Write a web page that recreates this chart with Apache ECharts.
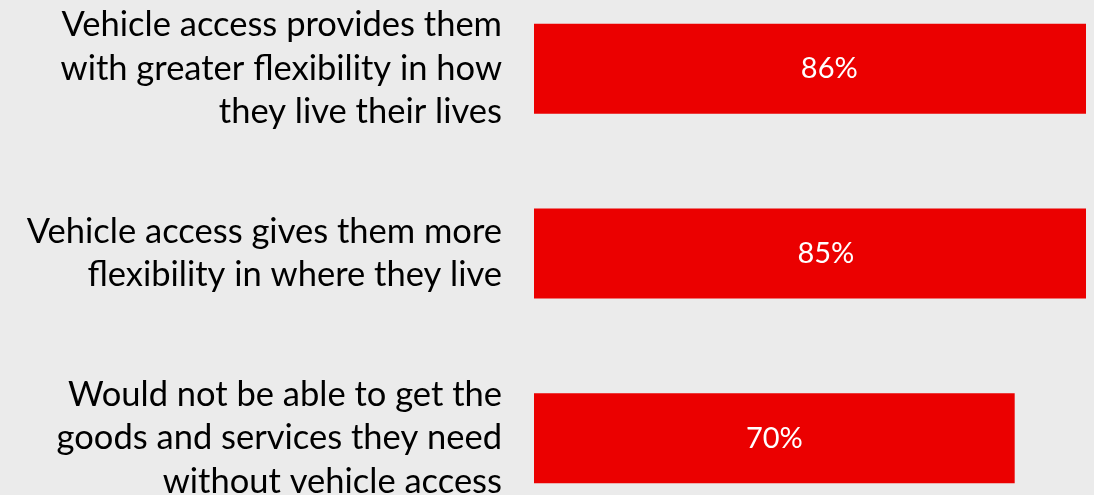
<!DOCTYPE html>
<html>
<head>
<meta charset="utf-8">
<script src="https://cdn.jsdelivr.net/npm/echarts@6/dist/echarts.min.js"></script>
<style>
  html, body { margin: 0; padding: 0; background: #ebebeb; }
  #chart { width: 1086px; height: 495px; }
</style>
</head>
<body>
<div id="chart"></div>
<script>
// Share of respondents agreeing with each statement (%)
const categories = [
  'Vehicle access provides them\nwith greater flexibility in how\nthey live their lives',
  'Vehicle access gives them more\nflexibility in where they live',
  'Would not be able to get the\ngoods and services they need\nwithout vehicle access'
];
const values = [86, 85, 70];

const FONT = 'Lato, "Open Sans", sans-serif';

const chart = echarts.init(document.getElementById('chart'), null, { renderer: 'canvas' });
chart.setOption({
  backgroundColor: '#ebebeb',
  animation: false,
  grid: {
    left: 534,
    top: -23.7,
    width: 686.7,
    height: 554.4,
    containLabel: false,
    outerBoundsMode: 'none'
  },
  xAxis: {
    type: 'value',
    min: 0,
    max: 100,
    show: false
  },
  yAxis: {
    type: 'category',
    inverse: true,
    data: categories,
    axisLine: { show: false },
    axisTick: { show: false },
    splitLine: { show: false },
    axisLabel: {
      margin: 32,
      color: '#000000',
      fontSize: 34.5,
      lineHeight: 43.5,
      fontFamily: FONT,
      align: 'right'
    }
  },
  series: [{
    type: 'bar',
    data: values,
    barWidth: 90,
    itemStyle: { color: '#eb0000' },
    label: {
      show: true,
      position: 'inside',
      color: '#ffffff',
      fontSize: 29,
      fontFamily: FONT,
      formatter: '{c}%'
    }
  }]
});
</script>
</body>
</html>
